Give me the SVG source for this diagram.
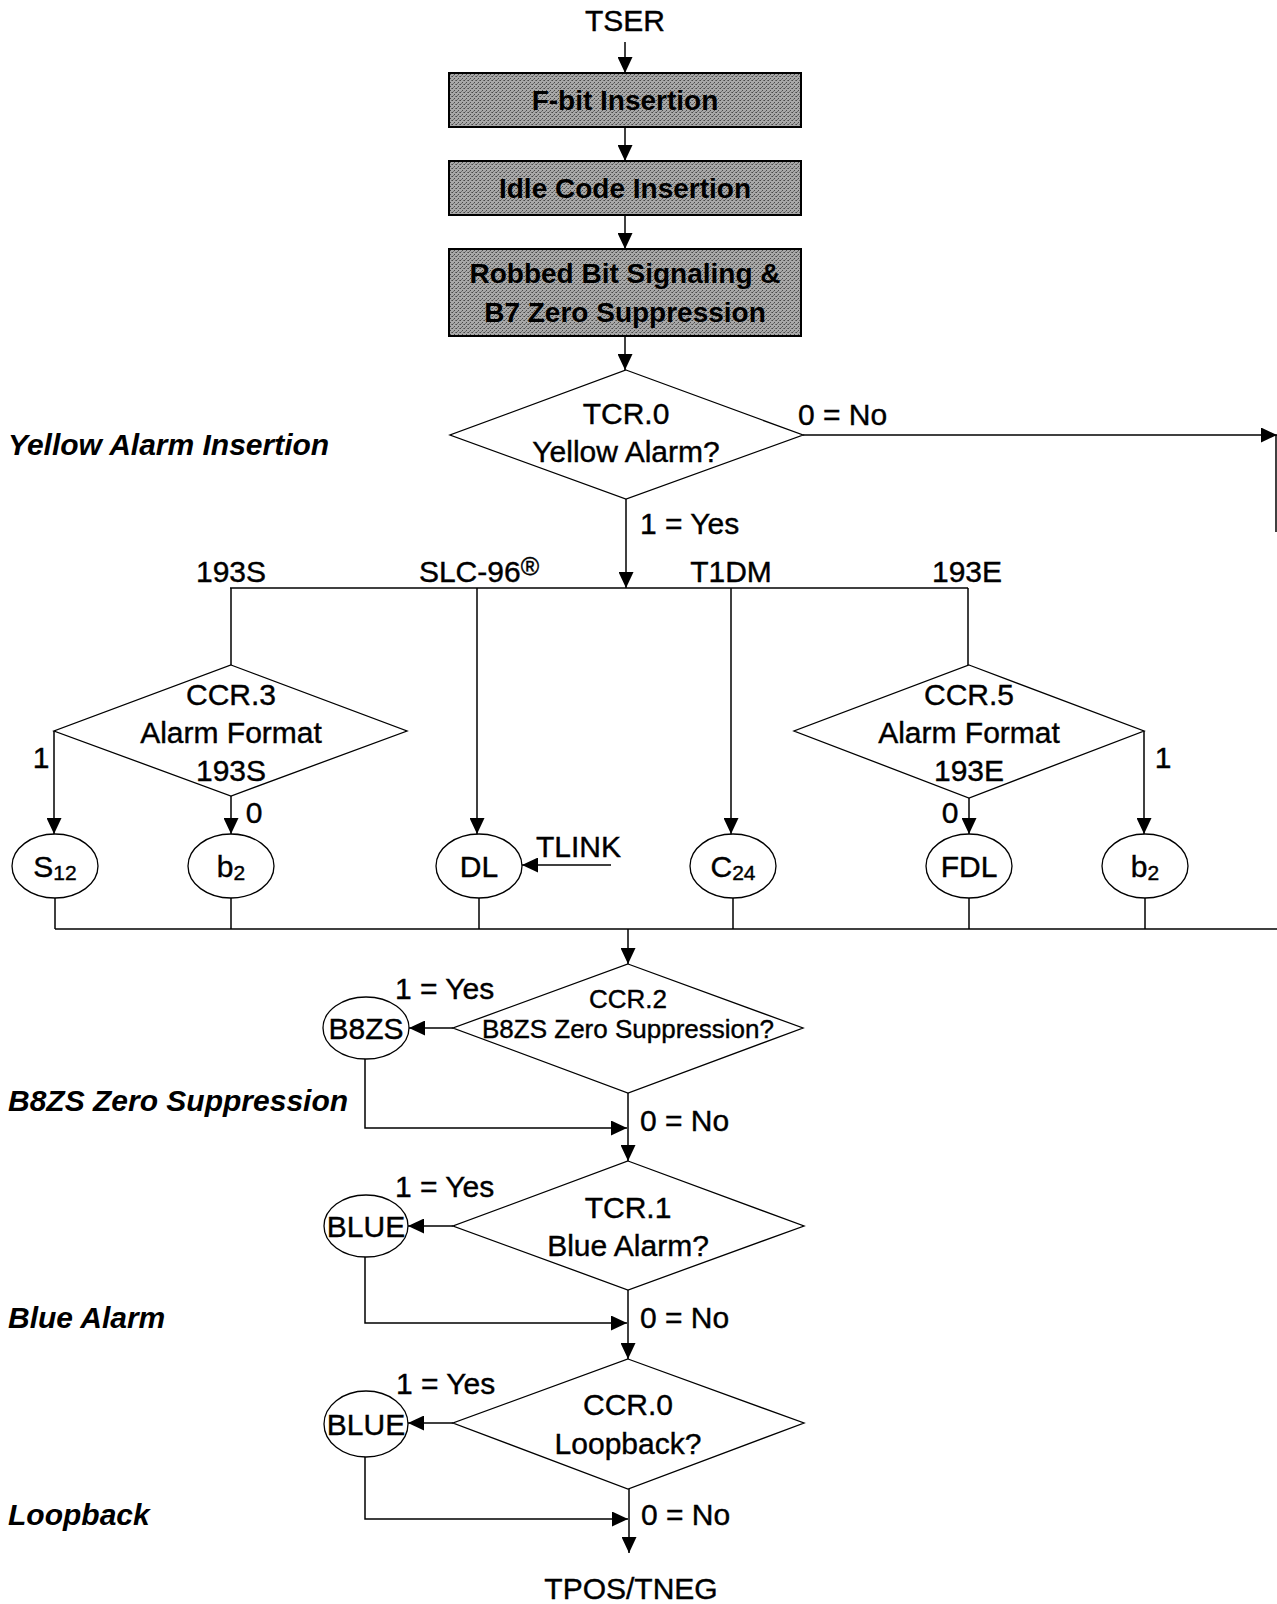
<svg xmlns="http://www.w3.org/2000/svg" width="1277" height="1604" viewBox="0 0 1277 1604">
<defs>
<marker id="ah" markerUnits="userSpaceOnUse" markerWidth="17" markerHeight="15" refX="16" refY="7.5" orient="auto">
<path d="M0,0 L16,7.5 L0,15 z" fill="#000"/>
</marker>
<pattern id="dither" width="4" height="4" patternUnits="userSpaceOnUse">
<rect width="4" height="4" fill="#a8a8a8"/>
<rect x="0" y="0" width="1" height="1" fill="#4a4a4a"/>
<rect x="2" y="2" width="1" height="1" fill="#4a4a4a"/>
<rect x="3" y="0" width="1" height="1" fill="#707070"/>
<rect x="1" y="3" width="1" height="1" fill="#707070"/>
</pattern>
</defs>
<style>
text{font-family:"Liberation Sans",Arial,sans-serif;fill:#000}
.t{font-size:30px;stroke:#000;stroke-width:0.4}
.c{text-anchor:middle}
.s{font-size:26px;stroke:#000;stroke-width:0.4}
.b{font-size:28px;font-weight:bold}
.li{font-size:30px;font-weight:bold;font-style:italic}
.box{fill:url(#dither);stroke:#000;stroke-width:2}
.dia{fill:#fff;stroke:#000;stroke-width:1.3}
.ell{fill:#fff;stroke:#000;stroke-width:1.3}
.ln{fill:none;stroke:#000;stroke-width:1.5}
.ar{fill:none;stroke:#000;stroke-width:1.5;marker-end:url(#ah)}
.sub{font-size:21px}
</style>
<rect width="1277" height="1604" fill="#fff"/>

<g id="connectors">
<line class="ar" x1="625" y1="42" x2="625" y2="73"/>
<line class="ar" x1="625" y1="127" x2="625" y2="161"/>
<line class="ar" x1="625" y1="215" x2="625" y2="249"/>
<line class="ar" x1="625" y1="336" x2="625" y2="370"/>
<line class="ar" x1="803" y1="435" x2="1277" y2="435"/>
<line class="ln" x1="1276" y1="435" x2="1276" y2="532"/>
<line class="ar" x1="626" y1="499" x2="626" y2="588"/>
<line class="ln" x1="230" y1="588" x2="968" y2="588"/>
<line class="ln" x1="231" y1="588" x2="231" y2="665"/>
<line class="ar" x1="477" y1="588" x2="477" y2="834"/>
<line class="ar" x1="731" y1="588" x2="731" y2="834"/>
<line class="ln" x1="968" y1="588" x2="968" y2="665"/>
<polyline class="ar" points="54,731 54,834"/>
<line class="ar" x1="231" y1="796" x2="231" y2="834"/>
<line class="ar" x1="969" y1="798" x2="969" y2="834"/>
<polyline class="ar" points="1144,731 1144,834"/>
<line class="ar" x1="611" y1="865" x2="522" y2="865"/>
<line class="ln" x1="55" y1="898" x2="55" y2="929"/>
<line class="ln" x1="231" y1="898" x2="231" y2="929"/>
<line class="ln" x1="479" y1="898" x2="479" y2="929"/>
<line class="ln" x1="733" y1="898" x2="733" y2="929"/>
<line class="ln" x1="969" y1="898" x2="969" y2="929"/>
<line class="ln" x1="1145" y1="898" x2="1145" y2="929"/>
<line class="ln" x1="55" y1="929" x2="1277" y2="929"/>
<line class="ar" x1="628" y1="929" x2="628" y2="964"/>
<line class="ar" x1="453" y1="1028" x2="409" y2="1028"/>
<polyline class="ar" points="365,1059 365,1128 627,1128"/>
<line class="ar" x1="628" y1="1093" x2="628" y2="1161"/>
<line class="ar" x1="453" y1="1226" x2="408" y2="1226"/>
<polyline class="ar" points="365,1257 365,1323 627,1323"/>
<line class="ar" x1="628" y1="1290" x2="628" y2="1359"/>
<line class="ar" x1="453" y1="1423" x2="408" y2="1423"/>
<polyline class="ar" points="365,1456 365,1519 628,1519"/>
<line class="ar" x1="629" y1="1489" x2="629" y2="1553"/>
</g>

<g id="tser"><text class="t c" x="625" y="31">TSER</text></g>

<g id="fbit">
<rect class="box" x="449" y="73" width="352" height="54"/>
<text class="b c" x="625" y="110">F-bit Insertion</text>
</g>
<g id="idle">
<rect class="box" x="449" y="161" width="352" height="54"/>
<text class="b c" x="625" y="198">Idle Code Insertion</text>
</g>
<g id="robbed">
<rect class="box" x="449" y="249" width="352" height="87"/>
<text class="b c" x="625" y="283">Robbed Bit Signaling &amp;</text>
<text class="b c" x="625" y="322">B7 Zero Suppression</text>
</g>

<g id="tcr0">
<polygon class="dia" points="626,370 803,435 626,499 450,435"/>
<text class="t c" x="626" y="424">TCR.0</text>
<text class="t c" x="626" y="462">Yellow Alarm?</text>
</g>
<g id="labels-yellow">
<text class="t" x="798" y="425">0 = No</text>
<text class="t" x="640" y="534">1 = Yes</text>
<text class="t c" x="231" y="582">193S</text>
<text class="t c" x="479" y="582">SLC-96<tspan font-size="25" dy="-7">®</tspan></text>
<text class="t c" x="731" y="582">T1DM</text>
<text class="t c" x="967" y="582">193E</text>
</g>

<g id="ccr3">
<polygon class="dia" points="231,665 407,731 231,796 54,731"/>
<text class="t c" x="231" y="705">CCR.3</text>
<text class="t c" x="231" y="743">Alarm Format</text>
<text class="t c" x="231" y="781">193S</text>
</g>
<g id="ccr5">
<polygon class="dia" points="969,665 1144,731 969,798 794,731"/>
<text class="t c" x="969" y="705">CCR.5</text>
<text class="t c" x="969" y="743">Alarm Format</text>
<text class="t c" x="969" y="781">193E</text>
</g>
<g id="branch-labels">
<text class="t c" x="41" y="768">1</text>
<text class="t c" x="254" y="823">0</text>
<text class="t c" x="1163" y="768">1</text>
<text class="t c" x="950" y="823">0</text>
</g>

<g id="s12"><ellipse class="ell" cx="55" cy="866" rx="43" ry="32"/><text class="t c" x="55" y="877">S<tspan class="sub" dy="3">12</tspan></text></g>
<g id="b2a"><ellipse class="ell" cx="231" cy="866" rx="43" ry="32"/><text class="t c" x="231" y="877">b<tspan class="sub" dy="3">2</tspan></text></g>
<g id="dl"><ellipse class="ell" cx="479" cy="866" rx="43" ry="32"/><text class="t c" x="479" y="877">DL</text></g>
<g id="tlink"><text class="t" x="536" y="857">TLINK</text></g>
<g id="c24"><ellipse class="ell" cx="733" cy="866" rx="43" ry="32"/><text class="t c" x="733" y="877">C<tspan class="sub" dy="3">24</tspan></text></g>
<g id="fdl"><ellipse class="ell" cx="969" cy="866" rx="43" ry="32"/><text class="t c" x="969" y="877">FDL</text></g>
<g id="b2b"><ellipse class="ell" cx="1145" cy="866" rx="43" ry="32"/><text class="t c" x="1145" y="877">b<tspan class="sub" dy="3">2</tspan></text></g>

<g id="ccr2">
<polygon class="dia" points="628,964 803,1028 628,1093 453,1028"/>
<text class="s c" x="628" y="1008">CCR.2</text>
<text class="s c" x="628" y="1038">B8ZS Zero Suppression?</text>
</g>
<g id="b8zs"><ellipse class="ell" cx="366" cy="1028" rx="43" ry="31"/><text class="t c" x="366" y="1039">B8ZS</text></g>
<text class="t" x="395" y="999">1 = Yes</text>
<text class="t" x="640" y="1131">0 = No</text>

<g id="tcr1">
<polygon class="dia" points="628,1161 804,1226 628,1290 453,1226"/>
<text class="t c" x="628" y="1218">TCR.1</text>
<text class="t c" x="628" y="1256">Blue Alarm?</text>
</g>
<g id="blue1"><ellipse class="ell" cx="366" cy="1226" rx="42" ry="31"/><text class="t c" x="366" y="1237">BLUE</text></g>
<text class="t" x="395" y="1197">1 = Yes</text>
<text class="t" x="640" y="1328">0 = No</text>

<g id="ccr0">
<polygon class="dia" points="628,1359 804,1423 628,1489 453,1423"/>
<text class="t c" x="628" y="1415">CCR.0</text>
<text class="t c" x="628" y="1454">Loopback?</text>
</g>
<g id="blue2"><ellipse class="ell" cx="366" cy="1424" rx="42" ry="33"/><text class="t c" x="366" y="1435">BLUE</text></g>
<text class="t" x="396" y="1394">1 = Yes</text>
<text class="t" x="641" y="1525">0 = No</text>

<g id="tpos"><text class="t c" x="631" y="1599">TPOS/TNEG</text></g>

<g id="section-labels">
<text class="li" x="8" y="455">Yellow Alarm Insertion</text>
<text class="li" x="8" y="1111">B8ZS Zero Suppression</text>
<text class="li" x="8" y="1328">Blue Alarm</text>
<text class="li" x="8" y="1525">Loopback</text>
</g>
</svg>
